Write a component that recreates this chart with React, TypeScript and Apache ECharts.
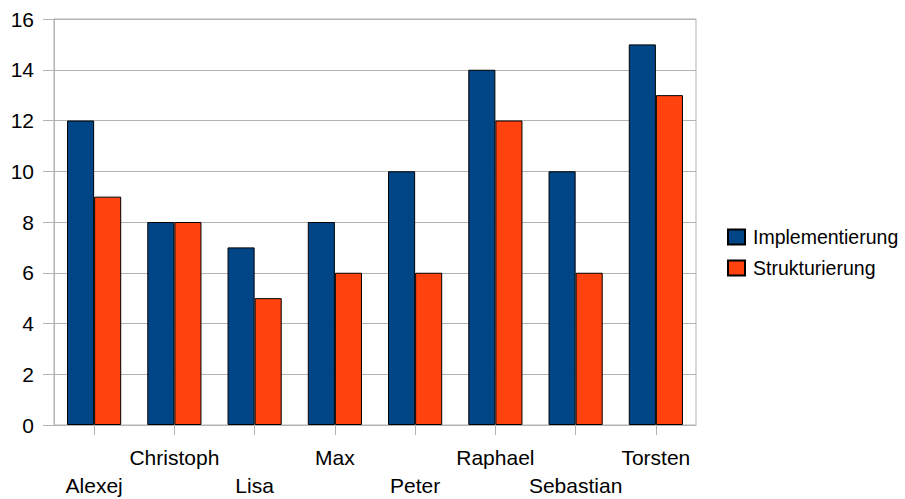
import React, { useEffect, useRef } from "react";
import * as echarts from "echarts";

const categories = ["Alexej", "Christoph", "Lisa", "Max", "Peter", "Raphael", "Sebastian", "Torsten"];
const implementierung = [12, 8, 7, 8, 10, 14, 10, 15];
const strukturierung = [9, 8, 5, 6, 6, 12, 6, 13];
const seriesNames = ["Implementierung", "Strukturierung"];

const FONT = "'Liberation Sans', Arial, sans-serif";
const GRID_COLOR = "#b3b3b3";

export default function App() {
  const ref = useRef<HTMLDivElement>(null);

  useEffect(() => {
    if (!ref.current) return;
    const chart = echarts.init(ref.current, null, { renderer: "svg" });
    chart.setOption({
      animation: false,
      textStyle: { fontFamily: FONT },
      grid: {
        left: 54,
        right: 209,
        top: 19,
        bottom: 71,
        show: true,
        borderColor: GRID_COLOR,
        borderWidth: 1,
      },
      legend: {
        orient: "vertical",
        left: 722,
        top: 222,
        itemWidth: 17,
        itemHeight: 15,
        itemGap: 11,
        icon: "rect",
        textStyle: { fontSize: 19.5, color: "#000", fontFamily: FONT, padding: [0, 0, 0, 3] },
        data: seriesNames,
      },
      xAxis: {
        type: "category",
        data: categories,
        boundaryGap: true,
        axisLine: { show: true, lineStyle: { color: GRID_COLOR } },
        axisTick: { show: true, alignWithLabel: true, length: 10, lineStyle: { color: GRID_COLOR } },
        axisLabel: {
          interval: 0,
          margin: 18,
          fontSize: 21,
          color: "#000",
          fontFamily: FONT,
          lineHeight: 28,
          formatter: (v: string, i: number) => (i % 2 === 0 ? "\n" + v : v),
        },
      },
      yAxis: {
        type: "value",
        min: 0,
        max: 16,
        interval: 2,
        axisLine: { show: true, lineStyle: { color: GRID_COLOR } },
        axisTick: { show: true, length: 11, lineStyle: { color: GRID_COLOR } },
        axisLabel: { margin: 20, fontSize: 21, color: "#000", fontFamily: FONT },
        splitLine: { show: true, lineStyle: { color: GRID_COLOR, width: 1 } },
      },
      series: [
        {
          name: seriesNames[0],
          type: "bar",
          data: implementierung,
          barGap: "0%",
          barCategoryGap: "32.5%",
          itemStyle: { color: "#004586", borderColor: "#000", borderWidth: 1 },
        },
        {
          name: seriesNames[1],
          type: "bar",
          data: strukturierung,
          barGap: "0%",
          barCategoryGap: "32.5%",
          itemStyle: { color: "#ff420e", borderColor: "#000", borderWidth: 1 },
        },
      ],
    });
    return () => chart.dispose();
  }, []);

  return <div ref={ref} style={{ width: 905, height: 499, position: "absolute", left: 0, top: 0 }} />;
}
